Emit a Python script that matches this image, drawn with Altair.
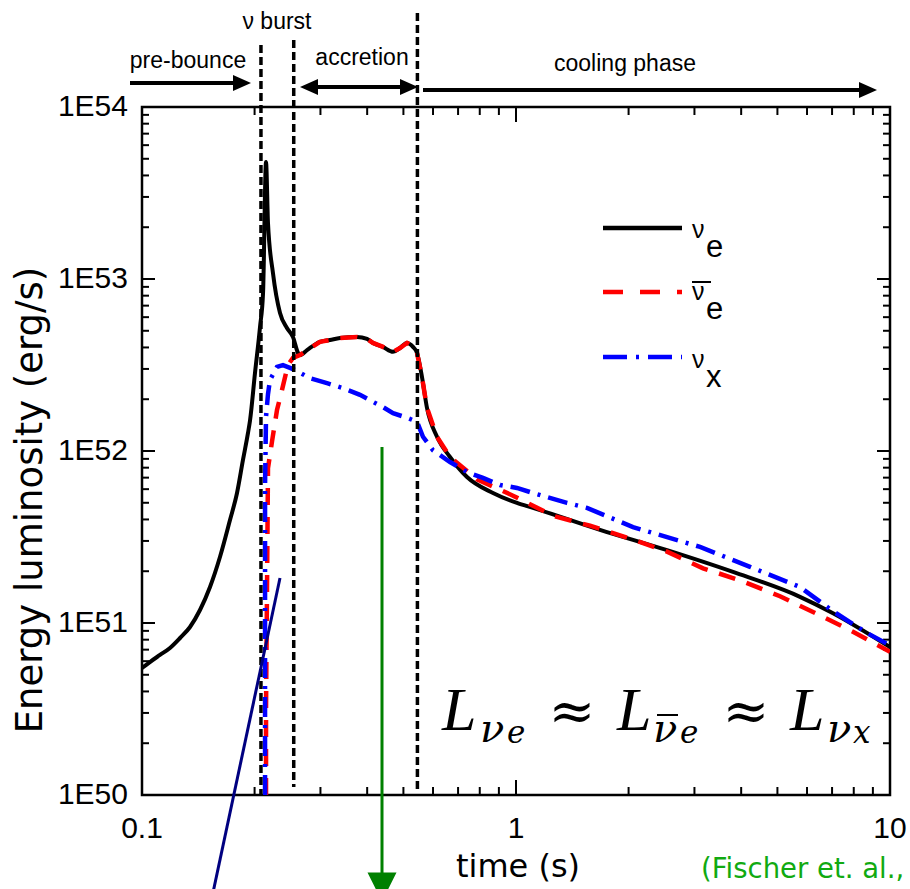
import altair as alt
import pandas as pd

# ---------------- data ----------------
t_nue = [0.1, 0.1050, 0.1117, 0.1188, 0.1264, 0.1344, 0.1429, 0.1520, 0.1616, 0.1719,
         0.1795, 0.1862, 0.1920, 0.1945, 0.2005, 0.2068, 0.2107, 0.2146, 0.2172, 0.2240,
         0.2339, 0.2441, 0.2533, 0.2613, 0.2645, 0.2762, 0.2991, 0.3182, 0.3384, 0.3757,
         0.3996, 0.4146, 0.4409, 0.4690, 0.4895, 0.5112, 0.5303, 0.5436, 0.5606, 0.5781,
         0.6149, 0.6661, 0.7396, 0.8679, 1.006, 1.110, 1.677, 2.534, 3.804, 5.745, 7.041, 10.0]
L_nue = [5.47e50, 5.93e50, 6.52e50, 7.16e50, 8.18e50, 9.48e50, 1.19e51, 1.62e51, 2.42e51, 3.97e51,
         5.70e51, 8.87e51, 1.27e52, 1.51e52, 2.84e52, 5.26e52, 8.30e52, 4.79e53, 2.12e53, 1.08e53,
         6.34e52, 5.19e52, 4.60e52, 3.72e52, 3.61e52, 3.86e52, 4.31e52, 4.42e52, 4.54e52, 4.60e52,
         4.48e52, 4.25e52, 4.03e52, 3.77e52, 3.97e52, 4.25e52, 4.03e52, 3.72e52, 2.69e52, 1.78e52,
         1.21e52, 9.23e51, 7.06e51, 5.70e51, 4.99e51, 4.67e51, 3.48e51, 2.65e51, 1.98e51, 1.42e51,
         1.14e51, 7.24e50]

t_anue = [0.2146, 0.2146, 0.2159, 0.2172, 0.2227, 0.2296, 0.2367, 0.2456, 0.2533, 0.2645,
          0.2762, 0.2991, 0.3182, 0.3384, 0.3757, 0.3996, 0.4146, 0.4409, 0.4690, 0.4895,
          0.5112, 0.5303, 0.5436, 0.5606, 0.5781, 0.6149, 0.6661, 0.7864, 0.9817, 1.256,
          1.577, 2.017, 2.534, 3.163, 3.971, 5.080, 6.381, 7.963, 10.0]
L_anue = [1.0e50, 3.16e50, 1.58e51, 7.94e51, 1.14e52, 1.73e52, 2.26e52, 3.16e52, 3.48e52, 3.61e52,
          3.86e52, 4.31e52, 4.42e52, 4.54e52, 4.60e52, 4.48e52, 4.25e52, 4.03e52, 3.77e52, 3.97e52,
          4.25e52, 4.03e52, 3.72e52, 2.69e52, 1.78e52, 1.21e52, 9.23e51, 6.85e51, 5.50e51, 4.20e51,
          3.68e51, 3.10e51, 2.60e51, 2.08e51, 1.77e51, 1.43e51, 1.13e51, 8.90e50, 6.80e50]

t_nux = [0.2133, 0.2133, 0.2133, 0.2146, 0.2172, 0.2199, 0.2296, 0.2382, 0.2487, 0.2565,
         0.2813, 0.3123, 0.3447, 0.3827, 0.4146, 0.4409, 0.4690, 0.5112, 0.5436, 0.5640,
         0.5999, 0.6661, 0.7396, 0.8161, 0.9063, 1.006, 1.110, 1.369, 1.548, 2.055,
         3.105, 4.224, 5.745, 7.041, 8.680, 10.0]
L_nux = [1.0e50, 1.0e51, 6.31e51, 1.58e52, 2.14e52, 2.59e52, 3.08e52, 3.16e52, 3.04e52, 2.96e52,
         2.65e52, 2.48e52, 2.32e52, 2.12e52, 1.93e52, 1.80e52, 1.66e52, 1.56e52, 1.48e52, 1.21e52,
         1.01e52, 8.63e51, 7.55e51, 6.97e51, 6.34e51, 6.10e51, 5.70e51, 4.99e51, 4.67e51, 3.61e51,
         2.77e51, 2.12e51, 1.62e51, 1.17e51, 8.75e50, 7.41e50]

phase_times = [0.208, 0.2545, 0.545]          # bounce / end of burst / end of accretion
phase_labels = ["pre-bounce", "\u03bd burst", "accretion", "cooling phase"]

x_ticks = [0.1, 1, 10]
x_labels = ["0.1", "1", "10"]
y_ticks = [1e50, 1e51, 1e52, 1e53, 1e54]
y_labels = ["1E50", "1E51", "1E52", "1E53", "1E54"]
x_minor = [0.2, 0.3, 0.4, 0.5, 0.6, 0.7, 0.8, 0.9, 2, 3, 4, 5, 6, 7, 8, 9]
y_minor = [k * 10.0 ** n for n in (50, 51, 52, 53) for k in range(2, 10)]

# ---------------- layout ----------------
W, H = 748, 688
SANS = "Liberation Sans"
WIDE = "DejaVu Sans"
SERIF = "Liberation Serif"
MSERIF = "DejaVu Serif"

xs = alt.Scale(type="log", domain=[0.1, 10], nice=False)
ys = alt.Scale(type="log", domain=[1e50, 1e54], nice=False)
X = lambda f: alt.X(f, scale=xs, axis=None)
Y = lambda f: alt.Y(f, scale=ys, axis=None)

layers = []

# tick labels
layers.append(alt.Chart(pd.DataFrame({"t": x_ticks, "s": x_labels})).mark_text(
    font=SANS, fontSize=30, color="black", align="center", baseline="alphabetic").encode(
    x=X("t:Q"), y=alt.value(731), text="s:N"))
layers.append(alt.Chart(pd.DataFrame({"L": y_ticks, "s": y_labels})).mark_text(
    font=SANS, fontSize=30, color="black", align="right", baseline="middle").encode(
    y=Y("L:Q"), x=alt.value(-14), text="s:N"))

# tick marks (inward)
def xticks(vals, length):
    df = pd.DataFrame({"t": vals})
    b = alt.Chart(df).mark_rule(color="black", strokeWidth=2).encode(
        x=X("t:Q"), y=alt.value(H), y2=alt.value(H - length))
    t = alt.Chart(df).mark_rule(color="black", strokeWidth=2).encode(
        x=X("t:Q"), y=alt.value(0), y2=alt.value(length))
    return [b, t]

def yticks(vals, length):
    df = pd.DataFrame({"L": vals})
    l = alt.Chart(df).mark_rule(color="black", strokeWidth=2).encode(
        y=Y("L:Q"), x=alt.value(0), x2=alt.value(length))
    r = alt.Chart(df).mark_rule(color="black", strokeWidth=2).encode(
        y=Y("L:Q"), x=alt.value(W), x2=alt.value(W - length))
    return [l, r]

layers += xticks([1], 15) + xticks(x_minor, 8)
layers += yticks([1e51, 1e52, 1e53], 13) + yticks(y_minor, 7)

# curves
def curve(t, L, color, dash, width, interp="linear"):
    df = pd.DataFrame({"t": t, "L": L, "i": list(range(len(t)))})
    kw = dict(color=color, strokeWidth=width, clip=True, interpolate=interp)
    if dash:
        kw["strokeDash"] = dash
    return alt.Chart(df).mark_line(**kw).encode(x=X("t:Q"), y=Y("L:Q"), order="i:Q")

layers.append(curve(t_nue, L_nue, "black", None, 4, "monotone"))
layers.append(curve(t_anue, L_anue, "#ff0000", [17, 12], 4.5))
layers.append(curve(t_nux, L_nux, "#0000ff", [20, 8, 3, 8], 4.5))

# phase boundaries (vertical dashed lines, extend above the frame)
line_tops = [-62, -67, -94]
line_bottoms = [688, 680, 683]
for tt, top, bot in zip(phase_times, line_tops, line_bottoms):
    layers.append(
        alt.Chart(pd.DataFrame({"t": [tt]})).mark_rule(color="black", strokeWidth=3.5, strokeDash=[8, 4]).encode(
            x=X("t:Q"), y=alt.value(top), y2=alt.value(bot)))

# helpers for annotations
def seg(x1, y1, x2, y2, color="black", width=4, dash=None):
    kw = dict(color=color, strokeWidth=width)
    if dash:
        kw["strokeDash"] = dash
    return alt.Chart(pd.DataFrame({"a": [0]})).mark_rule(**kw).encode(
        x=alt.value(x1), x2=alt.value(x2), y=alt.value(y1), y2=alt.value(y2))

def head(x, y, path, size, color="black"):
    return alt.Chart(pd.DataFrame({"a": [0]})).mark_point(
        shape=path, size=size, filled=True, color=color, opacity=1, strokeWidth=0).encode(
        x=alt.value(x), y=alt.value(y))

def txt(s, x, y, size, font=SANS, color="black", style="normal", align="left", baseline="alphabetic", angle=0):
    kw = dict(text=s, font=font, fontSize=size, color=color, fontStyle=style, align=align, baseline=baseline)
    if angle:
        kw["angle"] = angle
    return alt.Chart(pd.DataFrame({"a": [0]})).mark_text(**kw).encode(x=alt.value(x), y=alt.value(y))

RIGHT = "M1,0L-1,-0.9L-1,0.9Z"
LEFT = "M-1,0L1,-0.9L1,0.9Z"
DOWN = "M-1,-1L1,-1L0,1Z"

# phase arrows and labels
layers += [
    seg(-12, -24, 100, -24), head(100, -24, RIGHT, 324),
    seg(170, -20, 266, -20), head(167, -20, LEFT, 324), head(267, -20, RIGHT, 324),
    seg(281, -17, 720, -17), head(726, -17, RIGHT, 324),
    txt(phase_labels[0], 46, -39, 23, align="center"),
    txt(phase_labels[1], 135, -78, 23, align="center"),
    txt(phase_labels[2], 220, -42, 23, align="center"),
    txt(phase_labels[3], 483, -36, 23, align="center"),
]

# legend
layers += [
    seg(461, 121, 540, 121, "black", 4.5),
    seg(461, 185, 540, 185, "#ff0000", 4.5, [20, 17]),
    seg(461, 250, 540, 250, "#0000ff", 4.5, [24, 9, 3, 9]),
    txt("\u03bd", 550, 131, 25), txt("e", 564, 150, 31),
    txt("\u03bd", 550, 193, 25), txt("e", 564, 212, 31), seg(550, 175, 569, 175, "black", 2),
    txt("\u03bd", 550, 261, 25), txt("x", 564, 280, 31),
]

# formula  L_{nu_e} ~ L_{bar nu_e} ~ L_{nu_x}
FS, FS1, FS2 = 62, 40, 31
layers += [
    txt("L", 300, 623, FS, SERIF, style="italic"),
    txt("\u03bd", 338, 635, FS1, MSERIF, style="italic"),
    txt("e", 365, 636, FS2, MSERIF, style="italic"),
    txt("\u2248", 430, 623, 56, MSERIF, align="center"),
    txt("L", 475, 623, FS, SERIF, style="italic"),
    txt("\u03bd", 511, 635, FS1, MSERIF, style="italic"),
    seg(515, 608, 536, 608, "black", 2),
    txt("e", 538, 636, FS2, MSERIF, style="italic"),
    txt("\u2248", 604, 623, 56, MSERIF, align="center"),
    txt("L", 648, 623, FS, SERIF, style="italic"),
    txt("\u03bd", 685, 635, FS1, MSERIF, style="italic"),
    txt("x", 711, 636, FS2, MSERIF, style="italic"),
]

# axis titles
layers += [
    txt("time (s)", 376, 770, 32, WIDE, align="center"),
    txt("Energy luminosity (erg/s)", -111, 393, 37, WIDE, align="center", baseline="middle", angle=270),
]

# slide overlays
layers += [
    seg(138, 471, 69, 795, "#000080", 3),
    seg(240, 340, 240, 768, "#008000", 3),
    head(240, 780, DOWN, 841, "#008000"),
    txt("(Fischer et. al.,", 559, 771, 27.5, WIDE, color="#11aa11"),
]

chart = alt.layer(*layers).properties(
    width=W, height=H,
    autosize=alt.AutoSizeParams(type="none"),
    padding={"left": 142, "top": 107, "right": 20, "bottom": 94},
    background="white",
).configure_view(stroke="black", strokeWidth=2.5)

chart.save("out.html", embed_options={"renderer": "svg", "actions": False})
